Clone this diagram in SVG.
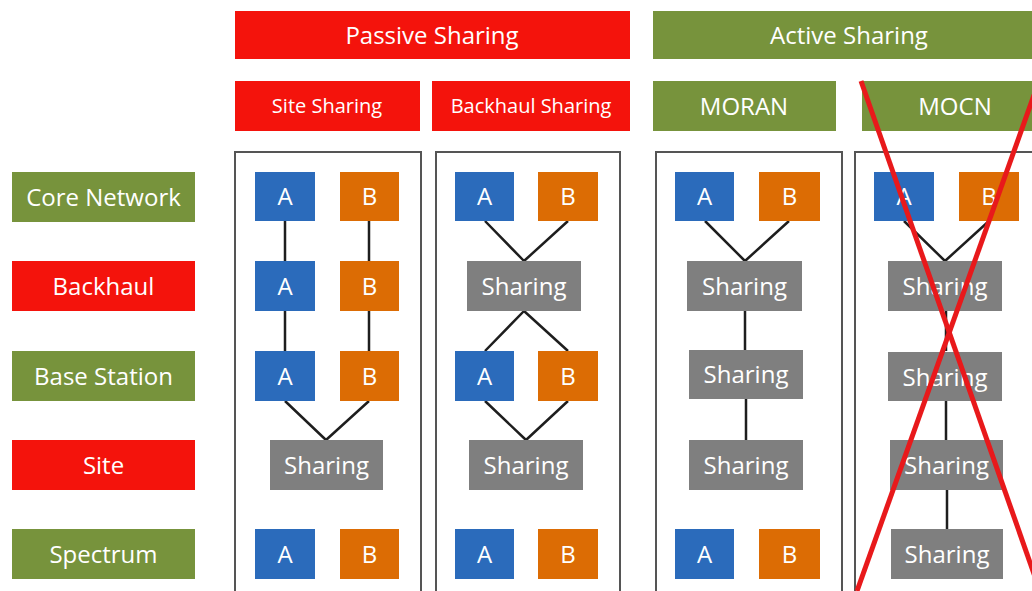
<svg xmlns="http://www.w3.org/2000/svg" width="1032" height="591" viewBox="0 0 1032 591">
<style>
text{font-family:"Open Sans","Noto Sans",sans-serif;fill:#fff;text-anchor:middle}
.t24{font-size:24px}
.t20{font-size:20px}
.red{fill:#f4130c}
.grn{fill:#77933c}
.blu{fill:#2b6bbb}
.org{fill:#dc6c04}
.gry{fill:#7f7f7f}
.col{fill:none;stroke:#555;stroke-width:2}
.ln{stroke:#1e1e1e;stroke-width:2.5;fill:none}
.x{stroke:#e8191b;stroke-width:5;stroke-linecap:butt}
</style>
<rect width="1032" height="591" fill="#fff"/>
<!-- headers -->
<g id="passive"><rect class="red" x="235" y="11" width="395" height="48"/><text class="t24" x="432" y="43.5">Passive Sharing</text></g>
<g id="active"><rect class="grn" x="653" y="11" width="390" height="48"/><text class="t24" x="849" y="43.5">Active Sharing</text></g>
<g id="site-sharing"><rect class="red" x="235" y="81" width="185" height="50"/><text class="t20" x="327" y="113">Site Sharing</text></g>
<g id="backhaul-sharing"><rect class="red" x="432" y="81" width="198" height="50"/><text class="t20" x="531" y="113">Backhaul Sharing</text></g>
<g id="moran"><rect class="grn" x="653" y="81" width="183" height="50"/><text class="t24" x="744" y="114.5">MORAN</text></g>
<g id="mocn"><rect class="grn" x="862" y="81" width="180" height="50"/><text class="t24" x="955" y="114.5">MOCN</text></g>
<!-- row labels -->
<g id="row-core"><rect class="grn" x="12" y="172" width="183" height="50"/><text class="t24" x="103.5" y="205.5">Core Network</text></g>
<g id="row-backhaul"><rect class="red" x="12" y="261" width="183" height="50"/><text class="t24" x="103.5" y="294.5">Backhaul</text></g>
<g id="row-bs"><rect class="grn" x="12" y="351" width="183" height="50"/><text class="t24" x="103.5" y="384.5">Base Station</text></g>
<g id="row-site"><rect class="red" x="12" y="440" width="183" height="50"/><text class="t24" x="103.5" y="473.5">Site</text></g>
<g id="row-spectrum"><rect class="grn" x="12" y="529" width="183" height="50"/><text class="t24" x="103.5" y="562.5">Spectrum</text></g>
<!-- column frames -->
<g id="frames">
<rect class="col" x="235" y="152" width="186" height="460"/>
<rect class="col" x="436" y="152" width="184" height="460"/>
<rect class="col" x="656" y="152" width="186" height="460"/>
<rect class="col" x="855" y="152" width="200" height="460"/>
</g>
<!-- connectors -->
<g id="connectors">
<path class="ln" d="M285 221V261M285 311V351M369 221V261M369 311V351M285 401L326 440M369 401L326 440"/>
<path class="ln" d="M485 221L524 261M568 221L524 261M485 351L524 311M568 351L524 311M485 401L526 440M568 401L526 440"/>
<path class="ln" d="M705 221L745 261M789 221L745 261M745 311V350M746 399V440"/>
<path class="ln" d="M904 221L945 261M989 221L945 261M946 311V351M946 401V440M947 490V529"/>
</g>
<!-- column 1 -->
<g id="c1-core-a"><rect class="blu" x="255" y="172" width="60" height="49"/><text class="t24" x="285" y="205">A</text></g>
<g id="c1-core-b"><rect class="org" x="340" y="172" width="59" height="49"/><text class="t24" x="369.5" y="205">B</text></g>
<g id="c1-bh-a"><rect class="blu" x="255" y="261" width="60" height="50"/><text class="t24" x="285" y="294.5">A</text></g>
<g id="c1-bh-b"><rect class="org" x="340" y="261" width="59" height="50"/><text class="t24" x="369.5" y="294.5">B</text></g>
<g id="c1-bs-a"><rect class="blu" x="255" y="351" width="60" height="50"/><text class="t24" x="285" y="384.5">A</text></g>
<g id="c1-bs-b"><rect class="org" x="340" y="351" width="59" height="50"/><text class="t24" x="369.5" y="384.5">B</text></g>
<g id="c1-site"><rect class="gry" x="270" y="440" width="113" height="50"/><text class="t24" x="326.5" y="473.5">Sharing</text></g>
<g id="c1-sp-a"><rect class="blu" x="255" y="529" width="60" height="50"/><text class="t24" x="285" y="562.5">A</text></g>
<g id="c1-sp-b"><rect class="org" x="340" y="529" width="59" height="50"/><text class="t24" x="369.5" y="562.5">B</text></g>
<!-- column 2 -->
<g id="c2-core-a"><rect class="blu" x="455" y="172" width="59" height="49"/><text class="t24" x="484.5" y="205">A</text></g>
<g id="c2-core-b"><rect class="org" x="538" y="172" width="60" height="49"/><text class="t24" x="568" y="205">B</text></g>
<g id="c2-bh"><rect class="gry" x="467" y="261" width="114" height="50"/><text class="t24" x="524" y="294.5">Sharing</text></g>
<g id="c2-bs-a"><rect class="blu" x="455" y="351" width="59" height="50"/><text class="t24" x="484.5" y="384.5">A</text></g>
<g id="c2-bs-b"><rect class="org" x="538" y="351" width="60" height="50"/><text class="t24" x="568" y="384.5">B</text></g>
<g id="c2-site"><rect class="gry" x="469" y="440" width="114" height="50"/><text class="t24" x="526" y="473.5">Sharing</text></g>
<g id="c2-sp-a"><rect class="blu" x="455" y="529" width="59" height="50"/><text class="t24" x="484.5" y="562.5">A</text></g>
<g id="c2-sp-b"><rect class="org" x="538" y="529" width="60" height="50"/><text class="t24" x="568" y="562.5">B</text></g>
<!-- column 3 -->
<g id="c3-core-a"><rect class="blu" x="675" y="172" width="59" height="49"/><text class="t24" x="704.5" y="205">A</text></g>
<g id="c3-core-b"><rect class="org" x="759" y="172" width="61" height="49"/><text class="t24" x="789.5" y="205">B</text></g>
<g id="c3-bh"><rect class="gry" x="687" y="261" width="115" height="50"/><text class="t24" x="744.5" y="294.5">Sharing</text></g>
<g id="c3-bs"><rect class="gry" x="689" y="350" width="114" height="49"/><text class="t24" x="746" y="383">Sharing</text></g>
<g id="c3-site"><rect class="gry" x="689" y="440" width="114" height="50"/><text class="t24" x="746" y="473.5">Sharing</text></g>
<g id="c3-sp-a"><rect class="blu" x="675" y="529" width="59" height="50"/><text class="t24" x="704.5" y="562.5">A</text></g>
<g id="c3-sp-b"><rect class="org" x="759" y="529" width="61" height="50"/><text class="t24" x="789.5" y="562.5">B</text></g>
<!-- column 4 -->
<g id="c4-core-a"><rect class="blu" x="874" y="172" width="60" height="49"/><text class="t24" x="904" y="205">A</text></g>
<g id="c4-core-b"><rect class="org" x="959" y="172" width="60" height="49"/><text class="t24" x="989" y="205">B</text></g>
<g id="c4-bh"><rect class="gry" x="888" y="261" width="114" height="50"/><text class="t24" x="945" y="294.5">Sharing</text></g>
<g id="c4-bs"><rect class="gry" x="888" y="352" width="114" height="49"/><text class="t24" x="945" y="385.5">Sharing</text></g>
<g id="c4-site"><rect class="gry" x="890" y="440" width="113" height="50"/><text class="t24" x="946.5" y="473.5">Sharing</text></g>
<g id="c4-sp"><rect class="gry" x="891" y="529" width="112" height="50"/><text class="t24" x="947" y="562.5">Sharing</text></g>
<!-- cross -->
<g id="cross">
<line class="x" x1="861" y1="81" x2="1040" y2="591"/>
<line class="x" x1="1039" y1="81" x2="857" y2="591"/>
</g>
</svg>
